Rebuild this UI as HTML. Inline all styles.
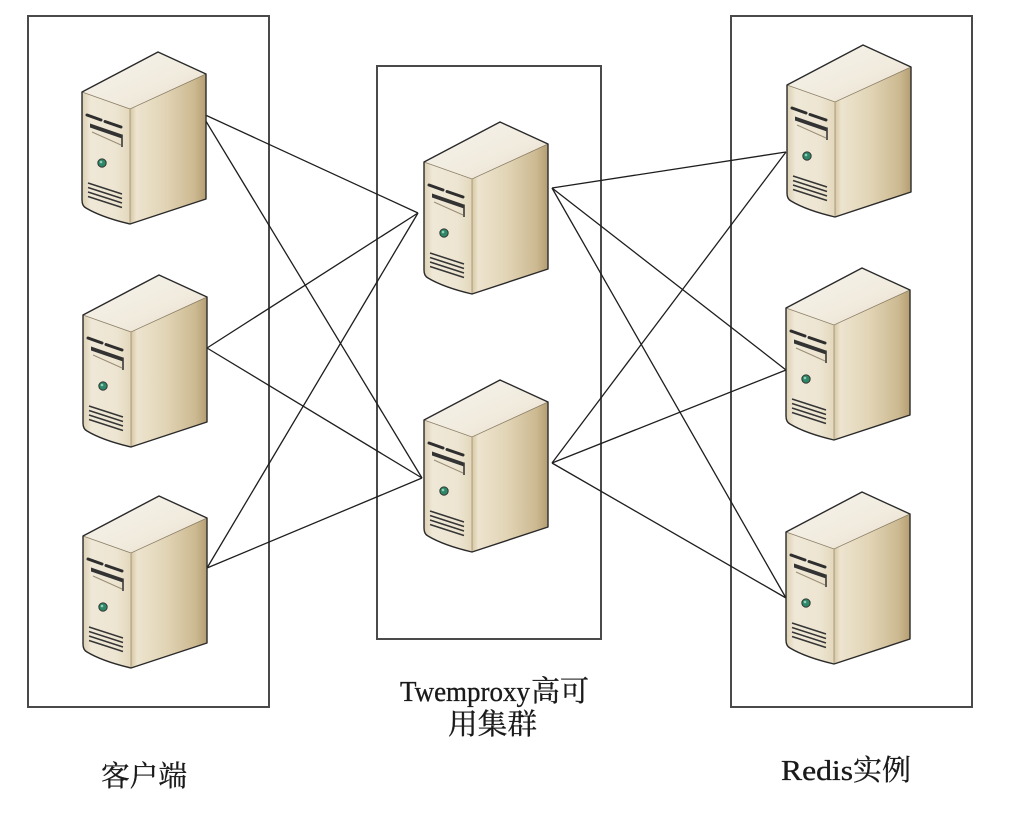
<!DOCTYPE html>
<html>
<head>
<meta charset="utf-8">
<style>
  html,body{margin:0;padding:0;background:#fff;}
  svg{display:block;}
</style>
</head>
<body>
<svg width="1012" height="816" viewBox="0 0 1012 816" xmlns="http://www.w3.org/2000/svg">
  <defs>
    <linearGradient id="gTop" x1="0" y1="0" x2="1" y2="1">
      <stop offset="0" stop-color="#f7f4ec"/>
      <stop offset="0.6" stop-color="#f1ebde"/>
      <stop offset="1" stop-color="#e6dcc6"/>
    </linearGradient>
    <linearGradient id="gFront" x1="0" y1="0" x2="1" y2="0">
      <stop offset="0" stop-color="#dccfb2"/>
      <stop offset="0.18" stop-color="#efe8d7"/>
      <stop offset="0.7" stop-color="#ede5d1"/>
      <stop offset="1" stop-color="#e3d8bd"/>
    </linearGradient>
    <linearGradient id="gRight" x1="0" y1="0" x2="1" y2="0">
      <stop offset="0" stop-color="#d6c6a0"/>
      <stop offset="0.08" stop-color="#ede4cf"/>
      <stop offset="0.45" stop-color="#e2d5b6"/>
      <stop offset="0.85" stop-color="#ccb991"/>
      <stop offset="1" stop-color="#b49d72"/>
    </linearGradient>
    <g id="srv">
      <path d="M-28,57 L48,22 L48,147 L-28,172 Z" fill="url(#gRight)"/>
      <path d="M-76,40 L-28,57 L-28,172 C-45,168 -62,162 -72,156 Q-76,154 -76,148 Z" fill="url(#gFront)"/>
      <path d="M0,0 L48,22 L-28,57 L-76,40 Z" fill="url(#gTop)"/>
      <path d="M-76,40 L-28,57 L48,22" fill="none" stroke="#8a7d66" stroke-width="0.8"/>
      <path d="M-28,57 L-28,172" fill="none" stroke="#9c8c6c" stroke-width="0.8"/>
      <path d="M0,0 L48,22 L48,147 L-28,172 C-45,168 -62,162 -72,156 Q-76,154 -76,148 L-76,40 Z" fill="none" stroke="#2a2a2a" stroke-width="1.4" stroke-linejoin="round"/>
      <path d="M-71,63 L-57,68" stroke="#2e2e2e" stroke-width="3" stroke-linecap="round"/>
      <path d="M-53,69.5 L-37,75" stroke="#2e2e2e" stroke-width="3" stroke-linecap="round"/>
      <path d="M-68,71.5 L-36,82.5 L-36,86.5 L-68,75.5 Z" fill="#333"/>
      <path d="M-36,82.5 L-36,95" stroke="#3a3a3a" stroke-width="1.6"/>
      <path d="M-66,80 L-37,93" stroke="#9a8d74" stroke-width="1"/>
      <circle cx="-56" cy="111" r="4.2" fill="#2f8768" stroke="#2c2c2c" stroke-width="0.9"/>
      <circle cx="-57" cy="110" r="1.3" fill="#8fd1b7"/>
      <path d="M-70,131 L-36,142" stroke="#353535" stroke-width="1.5"/>
      <path d="M-70,135.5 L-36,146.5" stroke="#353535" stroke-width="1.5"/>
      <path d="M-70,140 L-36,151" stroke="#353535" stroke-width="1.5"/>
      <path d="M-70,144.5 L-36,155.5" stroke="#353535" stroke-width="1.5"/>
    </g>
  </defs>

  <rect x="28" y="16" width="241" height="691" fill="none" stroke="#4a4a4a" stroke-width="2"/>
  <rect x="377" y="66" width="224" height="573" fill="none" stroke="#4a4a4a" stroke-width="2"/>
  <rect x="731" y="16" width="241" height="691" fill="none" stroke="#4a4a4a" stroke-width="2"/>

  <g stroke="#1e1e1e" stroke-width="1.3" fill="none">
    <line x1="201" y1="113" x2="418" y2="213"/>
    <line x1="201" y1="113" x2="422" y2="478"/>
    <line x1="207" y1="348" x2="418" y2="213"/>
    <line x1="207" y1="348" x2="422" y2="478"/>
    <line x1="207" y1="568" x2="418" y2="213"/>
    <line x1="207" y1="568" x2="422" y2="478"/>

    <line x1="552" y1="188" x2="786" y2="152"/>
    <line x1="552" y1="188" x2="786" y2="370"/>
    <line x1="552" y1="188" x2="786" y2="598"/>
    <line x1="552" y1="463" x2="786" y2="152"/>
    <line x1="552" y1="463" x2="786" y2="370"/>
    <line x1="552" y1="463" x2="786" y2="598"/>
  </g>

  <use href="#srv" x="158" y="52"/>
  <use href="#srv" x="159" y="275"/>
  <use href="#srv" x="159" y="496"/>

  <use href="#srv" x="500" y="122"/>
  <use href="#srv" x="500" y="380"/>

  <use href="#srv" x="863" y="45"/>
  <use href="#srv" x="862" y="268"/>
  <use href="#srv" x="862" y="492"/>

  <g fill="#1a1a1a" stroke="#1a1a1a" stroke-width="0.35">
    <text x="400" y="701" font-family="'Liberation Serif',serif" font-size="29" textLength="130" lengthAdjust="spacingAndGlyphs">Twemproxy</text>
    <text x="531" y="701" font-family="'Liberation Serif','Noto Serif CJK SC',serif" font-size="29" textLength="58" lengthAdjust="spacingAndGlyphs">高可</text>
    <text x="448" y="734" font-family="'Liberation Serif','Noto Serif CJK SC',serif" font-size="29" textLength="89" lengthAdjust="spacingAndGlyphs">用集群</text>
    <text x="101" y="786" font-family="'Liberation Serif','Noto Serif CJK SC',serif" font-size="29" textLength="86" lengthAdjust="spacingAndGlyphs">客户端</text>
    <text x="781" y="780" font-family="'Liberation Serif',serif" font-size="29" textLength="72" lengthAdjust="spacingAndGlyphs">Redis</text>
    <text x="853" y="780" font-family="'Liberation Serif','Noto Serif CJK SC',serif" font-size="29" textLength="58" lengthAdjust="spacingAndGlyphs">实例</text>
  </g>
</svg>
</body>
</html>
